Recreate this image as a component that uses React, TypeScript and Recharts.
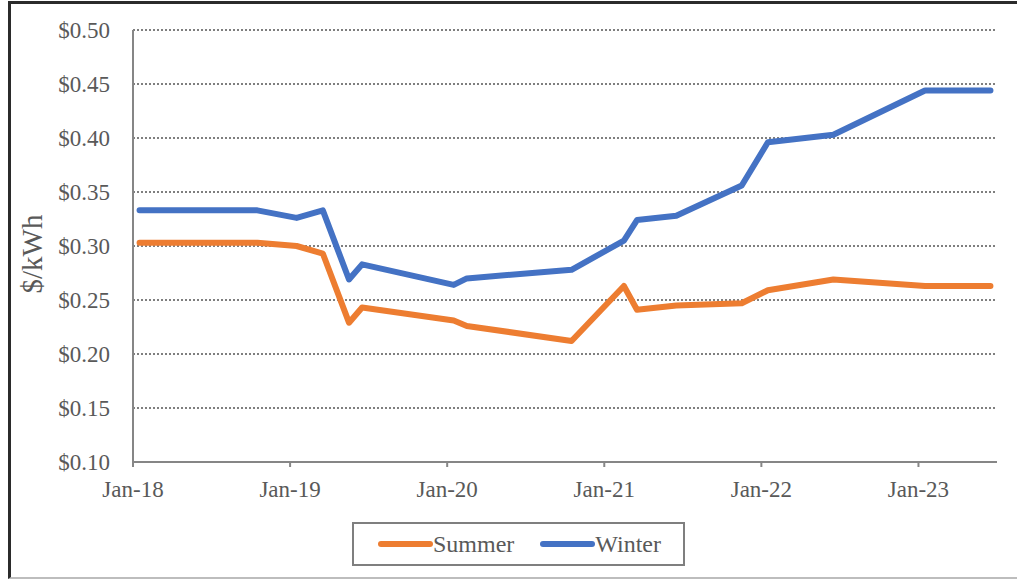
import React from "react"
import { CartesianGrid, Label, Line, LineChart, XAxis, YAxis } from "recharts"

// months since Jan-2018
const months = [0.5, 9.5, 12.5, 14.5, 16.5, 17.5, 24.5, 25.5, 33.5, 37.5, 38.5, 41.5, 46.5, 48.5, 53.5, 60.5, 65.5]
const summer = [0.303, 0.303, 0.3, 0.293, 0.229, 0.243, 0.231, 0.226, 0.212, 0.263, 0.241, 0.245, 0.247, 0.259, 0.269, 0.263, 0.263]
const winter = [0.333, 0.333, 0.326, 0.333, 0.269, 0.283, 0.264, 0.27, 0.278, 0.305, 0.324, 0.328, 0.356, 0.396, 0.403, 0.444, 0.444]

const xTicks = [0, 12, 24, 36, 48, 60]
const xTickLabels = ["Jan-18", "Jan-19", "Jan-20", "Jan-21", "Jan-22", "Jan-23"]
const yTicks = [0.1, 0.15, 0.2, 0.25, 0.3, 0.35, 0.4, 0.45, 0.5]

const series = [
  { key: "summer", name: "Summer", color: "#ED7D31" },
  { key: "winter", name: "Winter", color: "#4472C4" },
]

const data = months.map((m, i) => ({ m, summer: summer[i], winter: winter[i] }))

const FONT = "'Liberation Serif', 'Times New Roman', serif"
const TEXT = "#595959"
const AXIS = "#868686"

const YLabel = (props: any) => {
  const vb = props.viewBox || { x: 0, y: 0, width: 0, height: 0 }
  const x = vb.x + 32
  const y = vb.y + vb.height / 2 + 8
  return (
    <text x={x} y={y} transform={`rotate(-90 ${x} ${y})`} textAnchor="middle" dominantBaseline="central"
      fill={TEXT} fontSize={29} fontFamily={FONT}>
      $/kWh
    </text>
  )
}

export default function App() {
  return (
    <div style={{ position: "absolute", left: 0, top: 0, width: 1017, height: 579, background: "#fff" }}>
      <div style={{
        position: "absolute", left: 8, top: 1, width: 1009, height: 578, boxSizing: "border-box",
        borderTop: "3px solid #2b2b2b", borderLeft: "3px solid #2b2b2b", borderBottom: "2px solid #bdbdbd",
      }} />
      <div style={{ position: "absolute", left: 0, top: 0 }}>
        <LineChart width={1017} height={579} data={data} margin={{ top: 30, right: 20, bottom: 0, left: 0 }}>
          <CartesianGrid vertical={false} stroke="#7f7f7f" strokeWidth={2} strokeDasharray="2 2" />
          <XAxis
            type="number"
            dataKey="m"
            domain={[0, 66]}
            ticks={xTicks}
            interval={0}
            tickFormatter={(v: number) => xTickLabels[xTicks.indexOf(v)]}
            axisLine={{ stroke: AXIS, strokeWidth: 2 }}
            tickLine={{ stroke: AXIS, strokeWidth: 2 }}
            tickSize={5}
            tickMargin={14}
            tick={{ fill: TEXT, fontSize: 23, fontFamily: FONT }}
            height={117}
          />
          <YAxis
            type="number"
            domain={[0.1, 0.5]}
            ticks={yTicks}
            interval={0}
            tickFormatter={(v: number) => `$${v.toFixed(2)}`}
            axisLine={{ stroke: AXIS, strokeWidth: 2 }}
            tickLine={false}
            tickSize={6}
            tickMargin={17}
            tick={{ fill: TEXT, fontSize: 23, fontFamily: FONT }}
            width={133}
          >
            <Label content={YLabel} />
          </YAxis>
          {series.map((s) => (
            <Line
              key={s.key}
              type="linear"
              dataKey={s.key}
              name={s.name}
              stroke={s.color}
              strokeWidth={6}
              strokeLinecap="round"
              strokeLinejoin="round"
              dot={false}
              activeDot={false}
              isAnimationActive={false}
            />
          ))}
        </LineChart>
      </div>
      <div style={{
        position: "absolute", left: 352, top: 522, width: 333, height: 44, boxSizing: "border-box",
        border: "2px solid #7f7f7f", display: "flex", alignItems: "center", paddingLeft: 24,
        fontFamily: FONT, fontSize: 24, color: TEXT,
      }}>
        {series.map((s, i) => (
          <div key={s.key} style={{ display: "flex", alignItems: "center", marginRight: i === 0 ? 26 : 0 }}>
            <span style={{ display: "inline-block", width: 55, height: 6, borderRadius: 3, background: s.color }} />
            <span>{s.name}</span>
          </div>
        ))}
      </div>
    </div>
  )
}
